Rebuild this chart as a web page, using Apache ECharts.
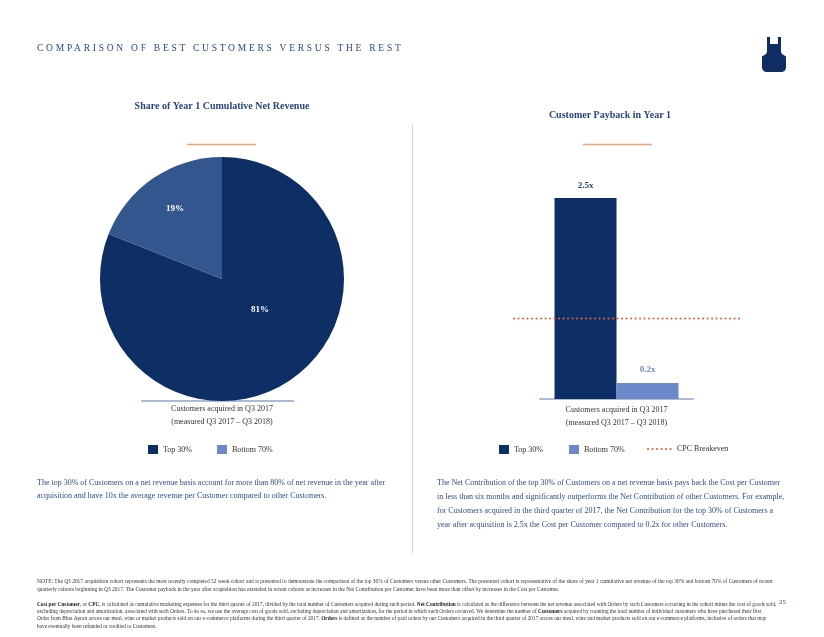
<!DOCTYPE html>
<html>
<head>
<meta charset="utf-8">
<script src="https://cdn.jsdelivr.net/npm/echarts@6/dist/echarts.min.js"></script>
<style>
html,body{margin:0;padding:0;background:#fff;}
#wrap{position:relative;width:824px;height:637px;}
#chart{position:absolute;left:0;top:0;width:824px;height:637px;}
#head{position:absolute;left:37px;top:43px;font-family:'Liberation Serif','DejaVu Serif',serif;font-size:9.5px;letter-spacing:2.75px;color:#2b4a89;white-space:nowrap;}
</style>
</head>
<body>
<div id="wrap">
<div id="chart"></div>
<div id="head">COMPARISON OF BEST CUSTOMERS VERSUS THE REST</div>
</div>
<script>
// ---- data ----
const pieTitle = 'Share of Year 1 Cumulative Net Revenue';
const pieCategories = ['Top 30%', 'Bottom 70%'];
const revenueShare = [81, 19];
const barTitle = 'Customer Payback in Year 1';
const barCategories = ['Top 30%', 'Bottom 70%'];
const paybackMultiple = [2.5, 0.2];
const breakevenName = 'CPC Breakeven';
const breakevenMultiple = 1.0;
const cohortCaption = 'Customers acquired in Q3 2017\n(measured Q3 2017 \u2013 Q3 2018)';
const leftText = 'The top 30% of Customers on a net revenue basis account for more than 80% of net revenue in the year after\nacquisition and have 10x the average revenue per Customer compared to other Customers.';
const rightText = 'The Net Contribution of the top 30% of Customers on a net revenue basis pays back the Cost per Customer\nin less than six months and significantly outperforms the Net Contribution of other Customers. For example,\nfor Customers acquired in the third quarter of 2017, the Net Contribution for the top 30% of Customers a\nyear after acquisition is 2.5x the Cost per Customer compared to 0.2x for other Customers.';
const note1 = 'NOTE: The Q3 2017 acquisition cohort represents the most recently completed 52 week cohort and is presented to demonstrate the comparison of the top 30% of Customers versus other Customers. The presented cohort is representative of the share of year 1 cumulative net revenue of the top 30% and bottom 70% of Customers of recent\nquarterly cohorts beginning in Q3 2017. The Customer payback in the year after acquisition has extended in recent cohorts as increases in the Net Contribution per Customer have been more than offset by increases in the Cost per Customer.';
const note2 = '{b|Cost per Customer}, or {b|CPC}, is calculated as cumulative marketing expenses for the third quarter of 2017, divided by the total number of Customers acquired during such period. {b|Net Contribution} is calculated as the difference between the net revenue associated with Orders by such Customers occurring in the cohort minus the cost of goods sold,\nexcluding depreciation and amortization, associated with such Orders. To do so, we use the average cost of goods sold, excluding depreciation and amortization, for the period in which such Orders occurred. We determine the number of {b|Customers} acquired by counting the total number of individual customers who have purchased their first\nOrder from Blue Apron across our meal, wine or market products sold on our e-commerce platforms during the third quarter of 2017. {b|Orders} is defined as the number of paid orders by our Customers acquired in the third quarter of 2017 across our meal, wine and market products sold on our e-commerce platforms, inclusive of orders that may\nhave eventually been refunded or credited to Customers.';
const pageNumber = '25';

// ---- styles ----
const FONT = "'Liberation Serif','DejaVu Serif',serif";
const NAVY = '#0e2e66';
const PIE_LIGHT = '#34568f';
const LIGHT = '#6c8aca';
const ORANGE = '#f4a07a';
const RED = '#e6602d';
const TITLE_C = '#27457e';
const PARA_C = '#2d4d8c';

const chart = echarts.init(document.getElementById('chart'), null, {renderer: 'canvas'});

const option = {
  animation: false,
  backgroundColor: '#fff',
  title: [
    {text: pieTitle, left: 217, top: 96, textAlign: 'center',
     textStyle: {fontFamily: FONT, fontSize: 10, fontWeight: 'bold', color: TITLE_C}},
    {text: barTitle, left: 605, top: 105, textAlign: 'center',
     textStyle: {fontFamily: FONT, fontSize: 10, fontWeight: 'bold', color: TITLE_C}}
  ],
  legend: [
    {selectedMode: false, left: 143, top: 440, itemWidth: 10, itemHeight: 9, itemGap: 25, icon: 'rect',
     textStyle: {fontFamily: FONT, fontSize: 8, color: '#333'},
     data: [{name: pieCategories[0], itemStyle: {color: NAVY}}, {name: pieCategories[1], itemStyle: {color: LIGHT}}]},
    {selectedMode: false, left: 494, top: 440, itemWidth: 10, itemHeight: 9, itemGap: 26, icon: 'rect',
     textStyle: {fontFamily: FONT, fontSize: 8, color: '#333'},
     data: [{name: barCategories[0], itemStyle: {color: NAVY}}, {name: barCategories[1], itemStyle: {color: LIGHT}}]},
    {selectedMode: false, left: 642, top: 440, itemWidth: 24, itemHeight: 9, itemGap: 10,
     itemStyle: {opacity: 0},
     textStyle: {fontFamily: FONT, fontSize: 8, color: '#333'},
     data: [breakevenName]}
  ],
  grid: [
    {left: 540, width: 153, top: 198, height: 201},
    {left: 514, width: 228, top: 198, height: 201}
  ],
  xAxis: [
    {type: 'category', gridIndex: 0, data: [cohortCaption],
     axisLine: {lineStyle: {color: '#a9bcd8', width: 2}}, axisTick: {show: false},
     axisLabel: {margin: 4, fontFamily: FONT, fontSize: 8, color: '#333', lineHeight: 13}},
    {type: 'category', gridIndex: 1, data: ['', ''], boundaryGap: false, show: false}
  ],
  yAxis: [
    {type: 'value', gridIndex: 0, min: 0, max: 2.5, show: false, splitLine: {show: false}},
    {type: 'value', gridIndex: 1, min: 0, max: 2.5, show: false, splitLine: {show: false}}
  ],
  series: [
    {type: 'pie', name: 'share', center: [222, 279], radius: 122, startAngle: 90, clockwise: true,
     data: pieCategories.map((n, i) => ({name: n, value: revenueShare[i]})),
     itemStyle: {color: p => [NAVY, PIE_LIGHT][p.dataIndex]},
     label: {position: 'inside', formatter: '{c}%', color: '#fff', fontFamily: FONT, fontSize: 9, fontWeight: 'bold'},
     labelLine: {show: false},
     labelLayout: p => (p.dataIndex === 0 ? {dx: 2, dy: -22} : {dx: -11, dy: -17}),
     emphasis: {disabled: true}},
    {type: 'bar', name: barCategories[0], xAxisIndex: 0, yAxisIndex: 0, data: [paybackMultiple[0]],
     barWidth: 62, barGap: '0%', itemStyle: {color: NAVY},
     label: {show: true, position: 'top', distance: 8, formatter: p => p.value.toFixed(1) + 'x',
             color: TITLE_C, fontFamily: FONT, fontSize: 9, fontWeight: 'bold'}},
    {type: 'bar', name: barCategories[1], xAxisIndex: 0, yAxisIndex: 0, data: [paybackMultiple[1]],
     barWidth: 62, itemStyle: {color: LIGHT},
     label: {show: true, position: 'top', distance: 9, formatter: p => p.value.toFixed(1) + 'x',
             color: LIGHT, fontFamily: FONT, fontSize: 9, fontWeight: 'bold'}},
    {type: 'line', name: breakevenName, xAxisIndex: 1, yAxisIndex: 1,
     data: [breakevenMultiple, breakevenMultiple], symbol: 'none', showSymbol: false, color: RED,
     lineStyle: {color: RED, width: 2, type: [0.1, 4.4], cap: 'round'}}
  ],
  graphic: [
    // logo
    {type: 'polygon', x: 762, y: 37,
     shape: {points: [[5,0],[8,0],[8,7],[16,7],[16,0],[19,0],[19,15],[20,17],[24,19.5],[24,31],[23,33.5],[20.5,35],[3.5,35],[1,33.5],[0,31],[0,19.5],[4,17],[5,15]]},
     style: {fill: '#0f2d63'}},
    // divider
    {type: 'line', shape: {x1: 412.5, y1: 125, x2: 412.5, y2: 553}, style: {stroke: '#d3d3d3', lineWidth: 1}},
    // title underlines
    {type: 'line', shape: {x1: 187, y1: 144.5, x2: 256, y2: 144.5}, style: {stroke: ORANGE, lineWidth: 1.5}},
    {type: 'line', shape: {x1: 583, y1: 144.5, x2: 652, y2: 144.5}, style: {stroke: ORANGE, lineWidth: 1.5}},
    // pie baseline and caption
    {type: 'line', shape: {x1: 141, y1: 401, x2: 294, y2: 401}, style: {stroke: '#a9bcd8', lineWidth: 2}},
    {type: 'text', x: 222, y: 402,
     style: {text: cohortCaption, align: 'center', verticalAlign: 'top', font: '8px ' + FONT, lineHeight: 13, fill: '#333'}},
    // paragraphs
    {type: 'text', x: 37, y: 476,
     style: {text: leftText, font: '8px ' + FONT, lineHeight: 13.5, fill: PARA_C}},
    {type: 'text', x: 437, y: 476,
     style: {text: rightText, font: '8px ' + FONT, lineHeight: 14, fill: PARA_C}},
    // footnotes
    {type: 'text', x: 37, y: 578,
     style: {text: note1, font: '5.45px ' + FONT, lineHeight: 8, fill: '#333'}},
    {type: 'text', x: 37, y: 601,
     style: {text: note2, fontFamily: FONT, fontSize: 5.3, lineHeight: 7.2, fill: '#333',
             rich: {b: {fontFamily: FONT, fontSize: 5.3, fontWeight: 'bold', fill: '#222', lineHeight: 7.2}}}},
    {type: 'text', x: 779, y: 599,
     style: {text: pageNumber, font: '7px ' + FONT, fill: '#2d4d8c'}}
  ]
};
chart.setOption(option);
</script>
</body>
</html>
